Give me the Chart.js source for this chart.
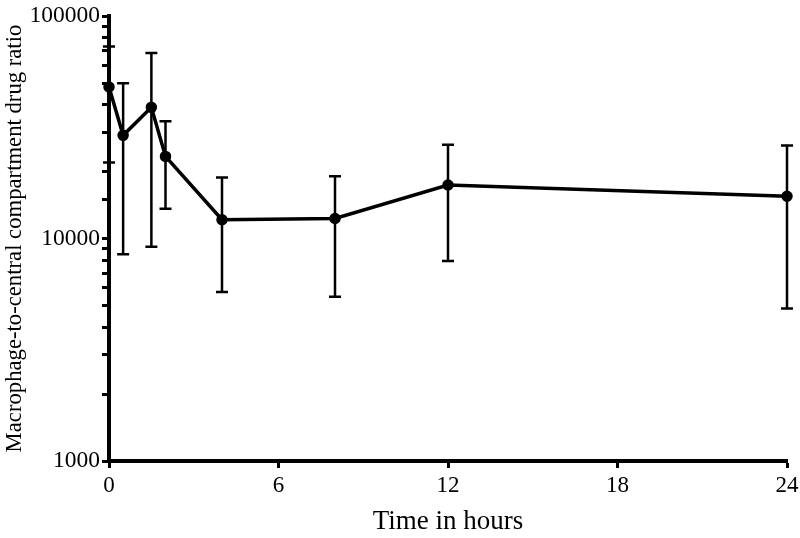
<!DOCTYPE html>
<html>
<head>
<meta charset="utf-8">
<script src="https://cdn.jsdelivr.net/npm/chart.js@4.4.0/dist/chart.umd.min.js"></script>
<style>
  html, body { margin: 0; padding: 0; background: #fff; }
  #wrap { width: 800px; height: 538px; position: relative; }
</style>
</head>
<body>
<div id="wrap"><canvas id="ratioChart"></canvas></div>
<script>
// --- Data ---
const hours = [0, 0.5, 1.5, 2, 4, 8, 12, 24];
const ratioMean = [48000, 29100, 38900, 23400, 12150, 12300, 17400, 15500];
const ratioUpper = [73000, 49900, 68200, 33700, 18800, 19050, 26400, 26200];
const ratioLower = [22000, 8490, 9190, 13600, 5750, 5470, 7930, 4850];
const xTicks = [0, 6, 12, 18, 24];
const yDecades = [1000, 10000, 100000];

const FONT = "'Liberation Serif', 'DejaVu Serif', serif";

// error bars drawn through the chart's own scales
const errorBars = {
    id: "errorBars",
    afterDatasetsDraw(chart) {
        const { ctx, scales } = chart;
        const x = scales.x, y = scales.y;
        ctx.save();
        ctx.strokeStyle = "#000";
        ctx.lineWidth = 2.5;
        hours.forEach((h, i) => {
            const px = x.getPixelForValue(h);
            const top = y.getPixelForValue(ratioUpper[i]);
            const bot = y.getPixelForValue(ratioLower[i]);
            ctx.beginPath();
            ctx.moveTo(px, top);
            ctx.lineTo(px, bot);
            ctx.moveTo(px - 6, top);
            ctx.lineTo(px + 6, top);
            ctx.moveTo(px - 6, bot);
            ctx.lineTo(px + 6, bot);
            ctx.stroke();
        });
        ctx.restore();
    },
};

const chart = new Chart(document.getElementById("ratioChart"), {
    type: "line",
    data: {
        datasets: [{
            data: hours.map((h, i) => ({ x: h, y: ratioMean[i] })),
            borderColor: "#000",
            backgroundColor: "#000",
            borderWidth: 3.5,
            pointRadius: 4,
            pointBackgroundColor: "#000",
            tension: 0,
            clip: false,
        }],
    },
    options: {
        responsive: true,
        maintainAspectRatio: false,
        animation: false,
        layout: { padding: { top: 11, right: 0, left: 0, bottom: 0 } },
        plugins: { legend: { display: false }, tooltip: { enabled: false } },
        scales: {
            x: {
                type: "linear",
                min: 0,
                max: 24,
                afterBuildTicks: (s) => { s.ticks = xTicks.map((v) => ({ value: v })); },
                afterFit: (s) => { s.height = 77; s.paddingLeft = 0; s.paddingRight = 13; },
                border: { color: "#000", width: 4 },
                grid: { display: true, drawOnChartArea: false, drawTicks: true, tickLength: 7, tickWidth: 3, tickColor: "#000" },
                ticks: { color: "#000", font: { family: FONT, size: 23 }, padding: 4, maxRotation: 0 },
                title: { display: true, text: "Time in hours", color: "#000", font: { family: FONT, size: 27 }, padding: { top: 0, bottom: 0 } },
            },
            y: {
                type: "logarithmic",
                min: 1000,
                max: 100000,
                afterFit: (s) => { s.width = 109; },
                border: { color: "#000", width: 4 },
                grid: { display: true, drawOnChartArea: false, drawTicks: true, tickLength: 7, tickWidth: 3, tickColor: "#000" },
                ticks: {
                    color: "#000",
                    autoSkip: false,
                    padding: 2,
                    font: { family: FONT, size: 23.5 },
                    callback: (v) => (yDecades.includes(v) ? String(v) : ""),
                },
                title: { display: true, text: "Macrophage-to-central compartment drug ratio", color: "#000", font: { family: FONT, size: 22.7 }, padding: { top: 1, bottom: 0 } },
            },
        },
    },
    plugins: [errorBars],
});
</script>
</body>
</html>
